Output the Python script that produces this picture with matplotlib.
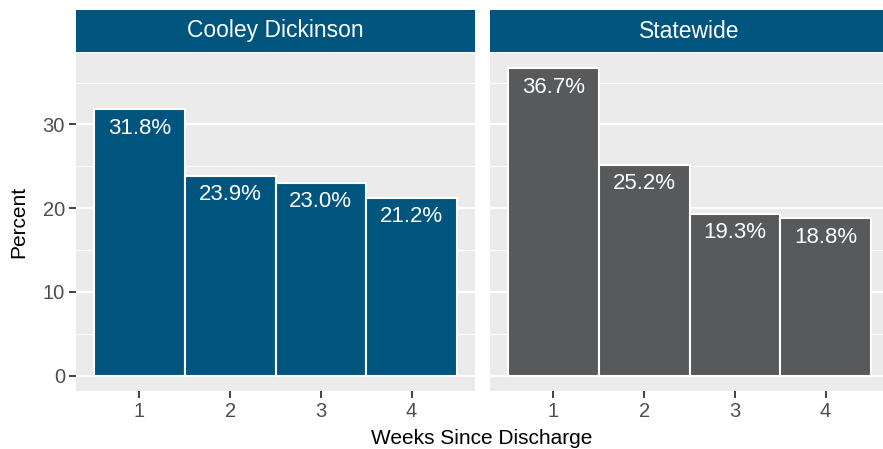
import matplotlib.pyplot as plt
from matplotlib.ticker import MultipleLocator

plt.rcParams['font.family'] = ['Liberation Sans', 'DejaVu Sans']

weeks = [1, 2, 3, 4]
cooley = [31.8, 23.9, 23.0, 21.2]
statewide = [36.7, 25.2, 19.3, 18.8]
panels = ["Cooley Dickinson", "Statewide"]
bar_colors = ["#00557F", "#58595B"]

strip_color = "#00557F"
panel_bg = "#EBEBEB"
tick_col = "#4D4D4D"

fig = plt.figure(figsize=(8.83, 4.49), dpi=100)

ax_w = 399 / 883
ax_b = 1 - 391 / 449
ax_h = 338 / 449
lefts = [76 / 883, 490 / 883]
ymax = max(cooley + statewide)

for i, (name, vals) in enumerate(zip(panels, [cooley, statewide])):
    ax = fig.add_axes([lefts[i], ax_b, ax_w, ax_h])
    ax.set_facecolor(panel_bg)
    ax.set_xlim(0.3, 4.7)
    ax.set_ylim(-0.05 * ymax, ymax * 1.05)
    ax.yaxis.set_major_locator(MultipleLocator(10))
    ax.yaxis.set_minor_locator(MultipleLocator(5))
    ax.grid(which='major', axis='y', color='white', lw=1.4)
    ax.grid(which='minor', axis='y', color='white', lw=0.7)
    ax.set_axisbelow(True)
    for s in ax.spines.values():
        s.set_visible(False)

    bars = ax.bar(weeks, vals, width=1.0, color=bar_colors[i],
                  edgecolor='white', linewidth=1.5)
    for b, v in zip(bars, vals):
        ax.annotate(f"{v:.1f}%", (b.get_x() + b.get_width() / 2, v),
                    xytext=(0, -6), textcoords='offset points',
                    ha='center', va='top', color='white', fontsize=16)

    ax.set_xticks(weeks)
    ax.tick_params(axis='both', which='major', length=5, width=1.3,
                   color='#333333', labelcolor=tick_col, labelsize=14.5, pad=3)
    ax.tick_params(which='minor', length=0)
    if i == 1:
        ax.tick_params(axis='y', left=False, labelleft=False)

    # facet strip
    sx = fig.add_axes([lefts[i], 1 - 52 / 449, ax_w, 42 / 449])
    sx.set_facecolor(strip_color)
    sx.set_xticks([])
    sx.set_yticks([])
    for s in sx.spines.values():
        s.set_visible(False)
    sx.text(0.5, 0.5, name, ha='center', va='center', color='white',
            fontsize=16.5, transform=sx.transAxes)

fig.text(18.5 / 883, 1 - 222 / 449, "Percent", rotation=90, ha='center',
         va='center', fontsize=15)
fig.text(482 / 883, 1 - 439 / 449, "Weeks Since Discharge", ha='center',
         va='center', fontsize=15)

fig.savefig("out.png", dpi=100)
